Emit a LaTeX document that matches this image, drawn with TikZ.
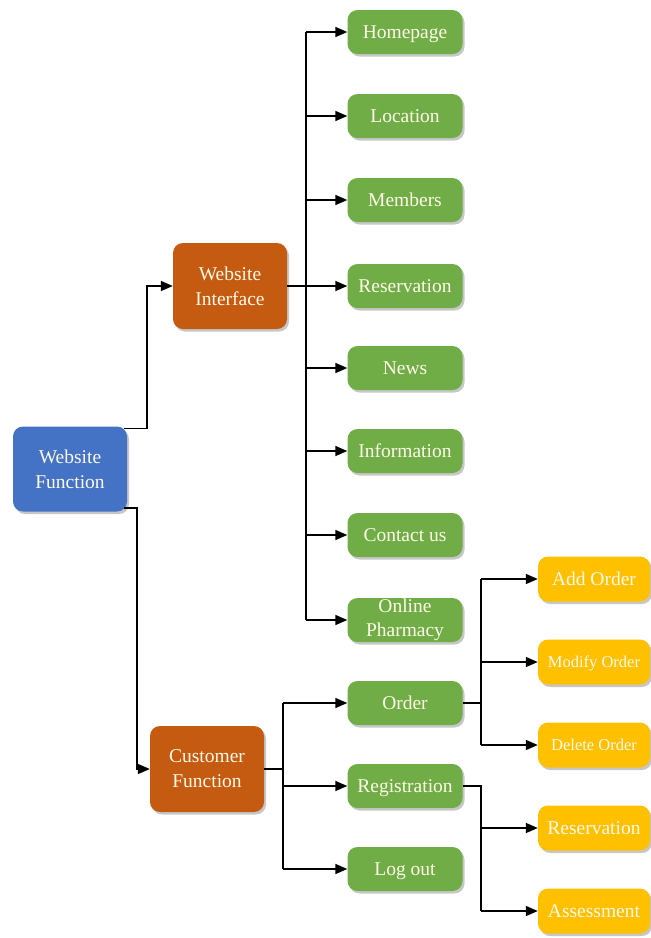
\documentclass[tikz,border=0pt]{standalone}
\usepackage{fontspec}
\setmainfont{Liberation Serif}
\usetikzlibrary{shadows,arrows.meta}
\definecolor{cblue}{HTML}{4472C4}
\definecolor{corange}{HTML}{C55A11}
\definecolor{cgreen}{HTML}{70AD47}
\definecolor{cyellow}{HTML}{FFC000}
\definecolor{ctext}{RGB}{255,250,232}
\tikzset{
  box/.style={rounded corners=10pt, inner sep=0pt, align=center, text=ctext,
    font=\fontsize{19.5}{25}\selectfont,
    drop shadow={shadow xshift=2pt, shadow yshift=-2.5pt, fill=black, opacity=0.22}},
  oneline/.style={text height=13pt, text depth=0pt},
  rootbox/.style={box, fill=cblue, minimum width=114pt, minimum height=85pt},
  midbox/.style={box, fill=corange, minimum width=114pt, minimum height=86pt},
  leafbase/.style={box, fill=cgreen, minimum width=115pt, minimum height=44pt},
  leafbox/.style={leafbase, oneline},
  subbox/.style={box, oneline, fill=cyellow, minimum width=112pt, minimum height=45pt},
  smalltext/.style={font=\fontsize{16.5}{20}\selectfont, text height=11pt},
  wire/.style={draw=black, line width=1.6pt},
  arrowwire/.style={wire, -{Triangle[length=12pt,width=10pt]}},
}
\begin{document}
\begin{tikzpicture}[x=1pt,y=-1pt]
\useasboundingbox (0,0) rectangle (651,938);

% root and second level
\node[rootbox] (wf) at (70,469) {Website\\Function};
\node[midbox]  (wi) at (230,286) {Website\\Interface};
\node[midbox]  (cf) at (207,769) {Customer\\Function};

% website interface pages
\node[leafbox] (g1) at (405,32)  {Homepage};
\node[leafbox] (g2) at (405,116) {Location};
\node[leafbox] (g3) at (405,200) {Members};
\node[leafbox] (g4) at (405,286) {Reservation};
\node[leafbox] (g5) at (405,368) {News};
\node[leafbox] (g6) at (405,451) {Information};
\node[leafbox] (g7) at (405,535) {Contact us};
\node[leafbase, font=\fontsize{19.5}{24}\selectfont] (g8) at (405,620) {Online\\Pharmacy};

% customer functions
\node[leafbox] (c1) at (405,703) {Order};
\node[leafbox] (c2) at (405,786) {Registration};
\node[leafbox] (c3) at (405,869) {Log out};

% order and registration sub-functions
\node[subbox] (o1) at (594,579) {Add Order};
\node[subbox, smalltext] (o2) at (594,662) {Modify Order};
\node[subbox, smalltext] (o3) at (594,745) {Delete Order};
\node[subbox] (r1) at (594,828) {Reservation};
\node[subbox] (r2) at (594,911) {Assessment};

% trunk coordinates
\coordinate (twi) at (306,286);
\coordinate (tcf) at (283,769);
\coordinate (tor) at (481,703);
\coordinate (trg) at (481,786);

% root to second level
\draw[arrowwire] ([xshift=-3pt,yshift=-2pt]wf.north east) -| ([xshift=-26pt]wi.west) -- (wi.west);
\draw[arrowwire] ([xshift=-3pt,yshift=4pt]wf.south east) -| ([xshift=-13pt]cf.west) -- (cf.west);

% website interface branches
\draw[wire] (wi.east) -- (wi.east -| twi);
\draw[wire] (twi |- g1) -- (twi |- g8);
\foreach \n in {g1,g2,g3,g4,g5,g6,g7,g8}
  \draw[arrowwire] (twi |- \n) -- (\n.west);

% customer function branches
\draw[wire] (cf.east) -- (cf.east -| tcf);
\draw[wire] (tcf |- c1) -- (tcf |- c3);
\foreach \n in {c1,c2,c3}
  \draw[arrowwire] (tcf |- \n) -- (\n.west);

% order branches
\draw[wire] (c1.east) -- (c1.east -| tor);
\draw[wire] (tor |- o1) -- (tor |- o3);
\foreach \n in {o1,o2,o3}
  \draw[arrowwire] (tor |- \n) -- (\n.west);

% registration branches
\draw[wire] (c2.east) -- (c2.east -| trg) -- (trg |- r2);
\foreach \n in {r1,r2}
  \draw[arrowwire] (trg |- \n) -- (\n.west);
\end{tikzpicture}
\end{document}
